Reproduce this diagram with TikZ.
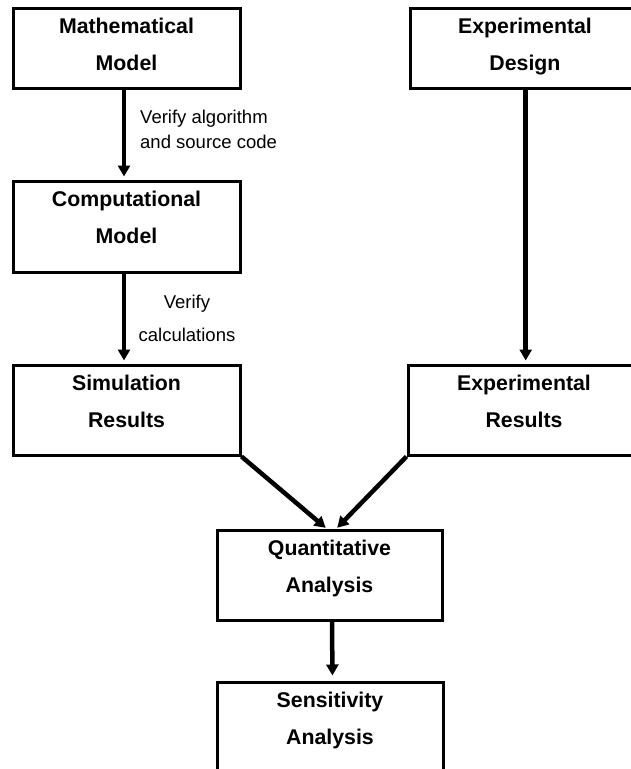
\documentclass[tikz,border=0pt]{standalone}
\usepackage{fontspec}
\setmainfont{Liberation Sans}
\usetikzlibrary{arrows.meta}
\begin{document}
\begin{tikzpicture}[x=1pt,y=-1pt,
  box/.style={draw, line width=3pt, minimum width=227pt, minimum height=90pt, inner sep=0pt},
  boxtext/.style={align=center, font=\fontsize{21.3}{37}\selectfont\bfseries, inner sep=0pt},
  lbl/.style={font=\fontsize{18.5}{25}\selectfont, inner sep=0pt},
  arr/.style={line width=4.5pt, -{Triangle[length=11pt,width=12pt]}, shorten >=3pt}]
\useasboundingbox (0,0) rectangle (631,769);
\clip (0,0) rectangle (631,769);
% boxes
\node[box, minimum height=80pt] (b1) at (126.5,48) {};
\node[box, minimum height=80pt, minimum width=230pt] (b2) at (525,48.5) {};
\node[box, minimum height=91pt] (b3) at (126.5,226.5) {};
\node[box] (b4) at (126.5,410) {};
\node[box, minimum width=232pt] (b5) at (524,410) {};
\node[box, minimum width=225pt] (b6) at (329.5,575) {};
\node[box, minimum width=226pt] (b7) at (330,727) {};
% box texts
\node[boxtext] (t1) at ([yshift=-38pt]b1.north) {\strut Mathematical\\\strut Model};
\node[boxtext] (t2) at ([yshift=-38pt]b2.north) {\strut Experimental\\\strut Design};
\node[boxtext] (t3) at ([yshift=-38pt]b3.north) {\strut Computational\\\strut Model};
\node[boxtext] (t4) at ([yshift=-38pt]b4.north) {\strut Simulation\\\strut Results};
\node[boxtext] (t5) at ([yshift=-38pt]b5.north) {\strut Experimental\\\strut Results};
\node[boxtext] (t6) at ([yshift=-38pt]b6.north) {\strut Quantitative\\\strut Analysis};
\node[boxtext] (t7) at ([yshift=-38pt]b7.north) {\strut Sensitivity\\\strut Analysis};
% labels
\node[lbl, align=left, anchor=west] (l1) at (140,130.5) {\strut Verify algorithm\\\strut and source code};
\node[lbl, align=center, font=\fontsize{18.5}{33}\selectfont] (l2) at (187,318.5) {\strut Verify\\\strut calculations};
% arrows
\draw[arr] ([xshift=-2.5pt]b1.south) -- ([xshift=-2.5pt]b3.north);
\draw[arr] ([xshift=-2.5pt]b3.south) -- ([xshift=-2.5pt]b4.north);
\draw[arr] ([xshift=0.7pt]b2.south) -- ([xshift=0.7pt]b2.south |- b5.north);
\draw[arr, shorten >=1pt] (b4.south east) -- ([xshift=-3pt]b6.north);
\draw[arr, shorten >=1pt] (b5.south west) -- ([xshift=7pt]b6.north);
\draw[arr, shorten >=5pt] ([xshift=2.5pt]b6.south) -- ([xshift=2.5pt]b7.north);
\end{tikzpicture}
\end{document}
